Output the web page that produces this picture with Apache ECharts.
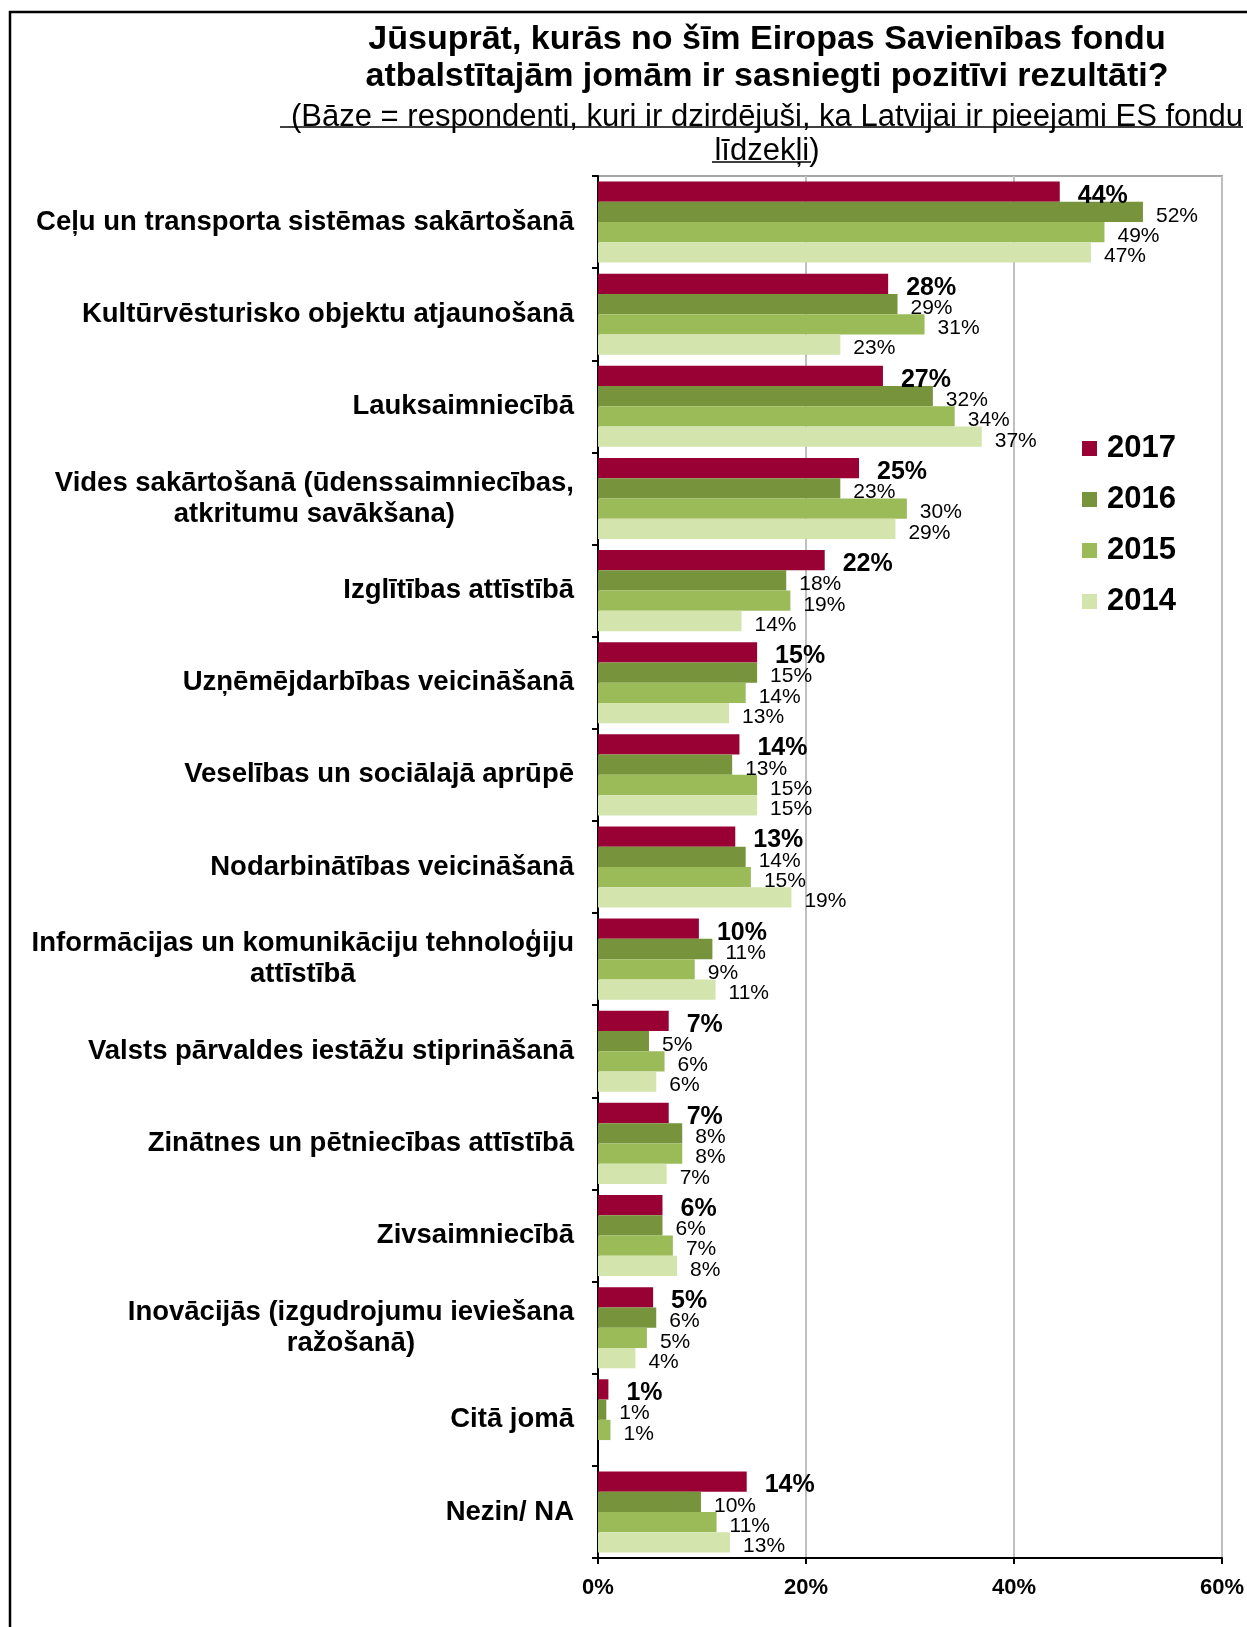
<!DOCTYPE html>
<html>
<head>
<meta charset="utf-8">
<script src="https://cdn.jsdelivr.net/npm/echarts@6/dist/echarts.min.js"></script>
<style>html,body{margin:0;padding:0;background:#fff;}#chart{width:1247px;height:1627px;}</style>
</head>
<body>
<div id="chart"></div>
<script>
var categories = [
  'Ceļu un transporta sistēmas sakārtošanā',
  'Kultūrvēsturisko objektu atjaunošanā',
  'Lauksaimniecībā',
  'Vides sakārtošanā (ūdenssaimniecības,\natkritumu savākšana)',
  'Izglītības attīstībā',
  'Uzņēmējdarbības veicināšanā',
  'Veselības un sociālajā aprūpē',
  'Nodarbinātības veicināšanā',
  'Informācijas un komunikāciju tehnoloģiju\nattīstībā',
  'Valsts pārvaldes iestāžu stiprināšanā',
  'Zinātnes un pētniecības attīstībā',
  'Zivsaimniecībā',
  'Inovācijās (izgudrojumu ieviešana\nražošanā)',
  'Citā jomā',
  'Nezin/ NA'
];
var years = ['2017', '2016', '2015', '2014'];
var values2017 = [44.4, 27.9, 27.4, 25.1, 21.8, 15.3, 13.6, 13.2, 9.7, 6.8, 6.8, 6.2, 5.3, 1.0, 14.3];
var values2016 = [52.4, 28.8, 32.2, 23.3, 18.1, 15.3, 12.9, 14.2, 11.0, 4.9, 8.1, 6.2, 5.6, 0.8, 9.9];
var values2015 = [48.7, 31.4, 34.3, 29.7, 18.5, 14.2, 15.3, 14.7, 9.3, 6.4, 8.1, 7.2, 4.7, 1.2, 11.4];
var values2014 = [47.4, 23.3, 36.9, 28.6, 13.8, 12.6, 15.3, 18.6, 11.3, 5.6, 6.6, 7.6, 3.6, null, 12.7];
var xTicks = [0, 20, 40, 60];
var titleText = 'Jūsuprāt, kurās no šīm Eiropas Savienības fondu\natbalstītajām jomām ir sasniegti pozitīvi rezultāti?';
var subText = '(Bāze = respondenti, kuri ir dzirdējuši, ka Latvijai ir pieejami ES fondu\nlīdzekļi)';

var FONT = '"Liberation Sans", Arial, sans-serif';
var colors = ['#990033', '#77933C', '#9BBB59', '#D3E4AD'];
var seriesData = [values2017, values2016, values2015, values2014];

var series = years.map(function (y, i) {
  var bold = i === 0;
  return {
    name: y,
    type: 'bar',
    data: seriesData[i],
    barGap: '0%',
    barCategoryGap: '12%',
    itemStyle: { color: colors[i] },
    label: {
      show: true,
      position: 'right',
      distance: bold ? 18 : 13,
      offset: [0, 4],
      color: '#000',
      fontFamily: FONT,
      fontSize: bold ? 25 : 21,
      fontWeight: bold ? 'bold' : 'normal',
      formatter: function (p) { return Math.round(p.value) + '%'; }
    }
  };
});

var chart = echarts.init(document.getElementById('chart'), null, { renderer: 'canvas' });
chart.setOption({
  backgroundColor: '#fff',
  animation: false,
  title: [
    {
      text: titleText,
      left: 762, top: 16, textAlign: 'center',
      textStyle: { fontFamily: FONT, fontSize: 34, fontWeight: 'bold', color: '#000', lineHeight: 37 }
    },
    {
      text: subText,
      left: 762, top: 95, textAlign: 'center',
      textStyle: { fontFamily: FONT, fontSize: 31, fontWeight: 'normal', color: '#000', lineHeight: 34 }
    }
  ],
  legend: {
    orient: 'vertical',
    left: 1077, top: 428,
    itemWidth: 15, itemHeight: 15, itemGap: 20,
    icon: 'rect',
    selectedMode: false,
    data: years,
    textStyle: { fontFamily: FONT, fontSize: 31, fontWeight: 'bold', color: '#000', lineHeight: 30, padding: [0, 0, 0, 5] }
  },
  grid: { left: 598, right: 25, top: 176, bottom: 69, show: true, borderColor: '#A6A6A6', borderWidth: 2, backgroundColor: 'transparent' },
  xAxis: {
    type: 'value', min: 0, max: 60, interval: 20,
    axisLine: { show: true, lineStyle: { color: '#000', width: 2 } },
    axisTick: { show: true, length: 6, lineStyle: { color: '#000', width: 2 } },
    splitLine: { show: true, lineStyle: { color: '#BFBFBF', width: 2 } },
    axisLabel: {
      margin: 19, color: '#000', fontFamily: FONT, fontSize: 22, fontWeight: 'bold',
      formatter: function (v) { return xTicks.indexOf(v) >= 0 ? v + '%' : ''; }
    }
  },
  yAxis: {
    type: 'category', data: categories, inverse: true,
    axisLine: { show: true, lineStyle: { color: '#000', width: 2 } },
    axisTick: { show: true, length: 6, lineStyle: { color: '#000', width: 2 } },
    splitLine: { show: false },
    axisLabel: {
      interval: 0, margin: 24, color: '#000',
      formatter: function (v) { return v.split('\n').map(function (l) { return '{c|' + l + '}'; }).join('\n'); },
      rich: { c: { align: 'center', fontFamily: FONT, fontSize: 27.5, fontWeight: 'bold', color: '#000', lineHeight: 31 } }
    }
  },
  graphic: [
    { type: 'rect', shape: { x: 10, y: 12, width: 1400, height: 1800 }, style: { fill: 'none', stroke: '#000', lineWidth: 2.5 }, z: 100 },
    { type: 'line', shape: { x1: 280, y1: 127, x2: 1243, y2: 127 }, style: { stroke: '#000', lineWidth: 1.5 } },
    { type: 'line', shape: { x1: 712, y1: 162, x2: 811, y2: 162 }, style: { stroke: '#000', lineWidth: 1.5 } }
  ],
  series: series
});
</script>
</body>
</html>
